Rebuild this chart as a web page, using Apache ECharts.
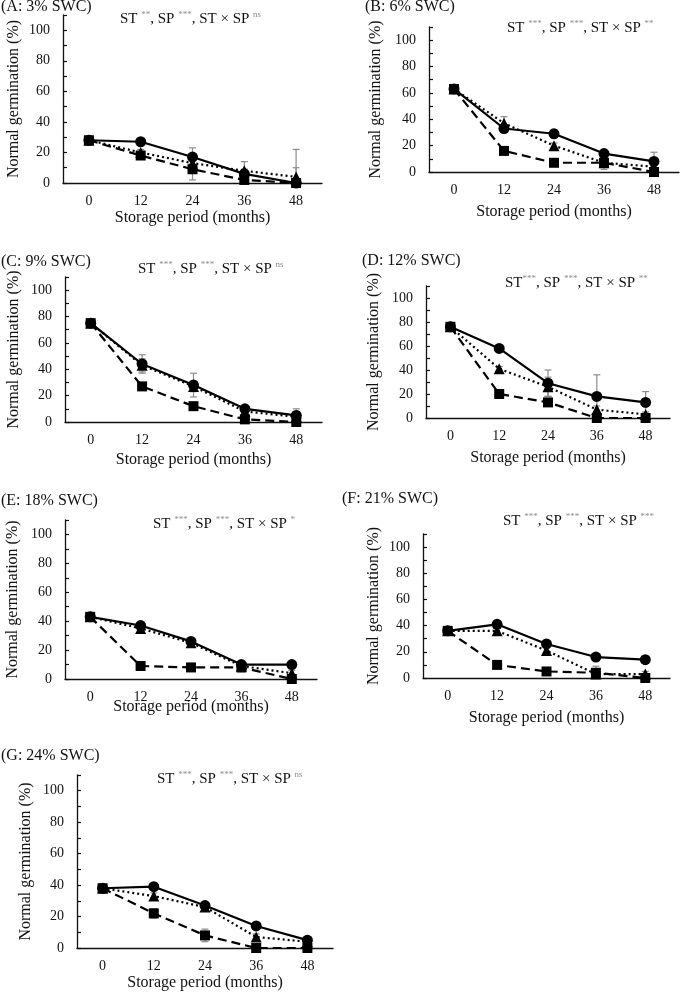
<!DOCTYPE html>
<html>
<head>
<meta charset="utf-8">
<script src="https://cdn.jsdelivr.net/npm/echarts@6/dist/echarts.min.js"></script>
<style>
html,body{margin:0;padding:0;background:#fff;}
#chart{width:681px;height:993px;}
</style>
</head>
<body>
<div id="chart"></div>
<script>
// ---- Data ----
const categories = ['0', '12', '24', '36', '48'];
const panelTitles = ['(A: 3% SWC)', '(B: 6% SWC)', '(C: 9% SWC)', '(D: 12% SWC)', '(E: 18% SWC)', '(F: 21% SWC)', '(G: 24% SWC)'];
// significance: [ST, SP, STxSP]
const sigST   = ['**', '***', '***', '***', '***', '***', '***'];
const sigSP   = ['***', '***', '***', '***', '***', '***', '***'];
const sigInt  = ['ns', '**', 'ns', '**', '*', '***', 'ns'];

// circle (solid line)
const circleA = [28, 27, 17, 6, 0];
const circleB = [63, 33, 29, 14, 8];
const circleC = [75, 44, 28, 10, 5];
const circleD = [76, 58, 29, 18, 13];
const circleE = [43, 37, 26, 10, 10];
const circleF = [36, 41, 26, 16, 14];
const circleG = [38, 39, 27, 14, 5];
// triangle (dotted line)
const triA = [28, 20, 13, 8, 4];
const triB = [63, 37, 20, 7, 4];
const triC = [75, 43, 27, 8, 4];
const triD = [76, 41, 26, 7, 3];
const triE = [43, 35, 25, 9, 4];
const triF = [36, 36, 21, 3, 3];
const triG = [38, 33, 26, 7, 4];
// square (dashed line)
const sqA = [28, 18, 9, 2, 0];
const sqB = [63, 16, 7, 7, 0];
const sqC = [75, 27, 12, 2, 0];
const sqD = [76, 20, 13, 0, 0];
const sqE = [43, 9, 8, 8, 0];
const sqF = [36, 10, 5, 4, 0];
const sqG = [38, 22, 8, 0, 0];
// error bars (±)
const circleErrA = [1, 1, 6, 3, 1];
const circleErrB = [1, 2, 3, 2, 7];
const circleErrC = [3, 7, 9, 2, 3];
const circleErrD = [1, 2, 11, 18, 9];
const circleErrE = [1, 2, 2, 2, 1];
const circleErrF = [1, 2, 2, 1, 1];
const circleErrG = [1, 1, 2, 2, 1];
const triErrA = [1, 2, 3, 6, 18];
const triErrB = [1, 5, 2, 2, 2];
const triErrC = [2, 5, 4, 2, 6];
const triErrD = [1, 2, 8, 3, 2];
const triErrE = [1, 2, 2, 3, 2];
const triErrF = [1, 2, 2, 2, 2];
const triErrG = [1, 2, 2, 2, 1];
const sqErrA = [1, 2, 7, 2, 10];
const sqErrB = [1, 2, 1, 5, 1];
const sqErrC = [2, 2, 2, 2, 1];
const sqErrD = [1, 2, 2, 1, 1];
const sqErrE = [1, 2, 2, 3, 1];
const sqErrF = [1, 2, 2, 5, 1];
const sqErrG = [1, 3, 4, 1, 1];

const yTickValues = [0, 20, 40, 60, 80, 100];

const circles = [circleA, circleB, circleC, circleD, circleE, circleF, circleG];
const tris = [triA, triB, triC, triD, triE, triF, triG];
const squares = [sqA, sqB, sqC, sqD, sqE, sqF, sqG];
const circleErrs = [circleErrA, circleErrB, circleErrC, circleErrD, circleErrE, circleErrF, circleErrG];
const triErrs = [triErrA, triErrB, triErrC, triErrD, triErrE, triErrF, triErrG];
const sqErrs = [sqErrA, sqErrB, sqErrC, sqErrD, sqErrE, sqErrF, sqErrG];

// ---- Layout (pixels) ----
const layout = [
  {left: 63,  right: 322, top: 15,  bottom: 183, yName: 41, xName: 27, title: [1, 8],   ann: [120, 18]},
  {left: 429, right: 679, top: 27,  bottom: 172, yName: 45, xName: 32, title: [365, 8], ann: [507, 27]},
  {left: 65,  right: 322, top: 277, bottom: 422, yName: 43, xName: 30, title: [1, 263], ann: [138, 268]},
  {left: 426, right: 670, top: 286, bottom: 418, yName: 44, xName: 32, title: [362, 262], ann: [505, 282]},
  {left: 65,  right: 317, top: 520, bottom: 679, yName: 44, xName: 20, title: [1, 502], ann: [153, 523]},
  {left: 423, right: 670, top: 534, bottom: 678, yName: 41, xName: 32, title: [342, 500], ann: [503, 520]},
  {left: 77,  right: 333, top: 775, bottom: 948, yName: 43, xName: 27, title: [1, 757], ann: [157, 778]}
];

const FONT = '"Liberation Serif", "Times New Roman", serif';
const W = 681, H = 993;

const grids = [], xAxes = [], yAxes = [], series = [], graphics = [];

function errSeries(idx, vals, errs) {
  return {
    type: 'custom',
    xAxisIndex: idx, yAxisIndex: idx,
    z: 1,
    silent: true,
    data: vals.map((v, i) => [i, v, errs[i]]),
    renderItem: function (params, api) {
      const x = api.value(0), v = api.value(1), e = api.value(2);
      const hi = api.coord([x, v + e]);
      const lo = api.coord([x, Math.max(v - e, 0)]);
      const cw = 3.5;
      const st = {stroke: '#8c8c8c', lineWidth: 1.2};
      return {
        type: 'group',
        children: [
          {type: 'line', shape: {x1: hi[0], y1: hi[1], x2: lo[0], y2: lo[1]}, style: st},
          {type: 'line', shape: {x1: hi[0] - cw, y1: hi[1], x2: hi[0] + cw, y2: hi[1]}, style: st},
          {type: 'line', shape: {x1: lo[0] - cw, y1: lo[1], x2: lo[0] + cw, y2: lo[1]}, style: st}
        ]
      };
    }
  };
}

layout.forEach((L, i) => {
  grids.push({left: L.left, top: L.top, width: L.right - L.left, height: L.bottom - L.top, containLabel: false});
  xAxes.push({
    type: 'category', gridIndex: i, data: categories, boundaryGap: true,
    name: 'Storage period (months)', nameLocation: 'middle', nameGap: L.xName,
    nameMoveOverlap: false,
    nameTextStyle: {fontFamily: FONT, fontSize: 16, color: '#111'},
    axisLine: {lineStyle: {color: '#111', width: 1.3}},
    axisTick: {inside: true, length: 4, lineStyle: {color: '#111', width: 1.2}},
    axisLabel: {fontFamily: FONT, fontSize: 14, color: '#111', margin: 11},
    splitLine: {show: false}
  });
  yAxes.push({
    type: 'value', gridIndex: i, min: 0, max: 110, interval: 10,
    name: 'Normal germination (%)', nameLocation: 'middle', nameGap: L.yName,
    nameMoveOverlap: false,
    nameTextStyle: {fontFamily: FONT, fontSize: 16, color: '#111'},
    axisLine: {show: true, lineStyle: {color: '#111', width: 1.3}},
    axisTick: {show: true, inside: true, length: 4, lineStyle: {color: '#111', width: 1.2}},
    axisLabel: {fontFamily: FONT, fontSize: 14, color: '#111', margin: 13,
      formatter: v => (yTickValues.indexOf(v) >= 0 ? String(v) : '')},
    splitLine: {show: false}
  });
  series.push(errSeries(i, circles[i], circleErrs[i]));
  series.push(errSeries(i, tris[i], triErrs[i]));
  series.push(errSeries(i, squares[i], sqErrs[i]));
  series.push({
    name: 'Circle', type: 'line', xAxisIndex: i, yAxisIndex: i, data: circles[i], z: 3,
    symbol: 'circle', symbolSize: 11, itemStyle: {color: '#000'},
    lineStyle: {color: '#000', width: 2.2, type: 'solid'}, animation: false
  });
  series.push({
    name: 'Triangle', type: 'line', xAxisIndex: i, yAxisIndex: i, data: tris[i], z: 4,
    symbol: 'triangle', symbolSize: 11, itemStyle: {color: '#000'},
    lineStyle: {color: '#000', width: 2.2, type: [2, 3]}, animation: false
  });
  series.push({
    name: 'Square', type: 'line', xAxisIndex: i, yAxisIndex: i, data: squares[i], z: 5,
    symbol: 'rect', symbolSize: 10, itemStyle: {color: '#000'},
    lineStyle: {color: '#000', width: 2.2, type: [9, 5]}, animation: false
  });
  graphics.push({
    type: 'text', left: L.title[0], top: L.title[1] - 9,
    style: {text: panelTitles[i], font: '16px ' + FONT, fill: '#111'}
  });
  graphics.push({
    type: 'text', left: L.ann[0], top: L.ann[1] - 9,
    style: {
      text: (i === 3 ? '{m|ST}' : '{m|ST }') + '{s|' + sigST[i] + '}{m|, SP }{s|' + sigSP[i] + '}{m|, ST × SP }{s|' + sigInt[i] + '}',
      rich: {
        m: {font: '15px ' + FONT, fill: '#111', lineHeight: 18, verticalAlign: 'bottom'},
        s: {font: '9px ' + FONT, fill: '#8c8c8c', lineHeight: 18, verticalAlign: 'top', padding: [1, 0, 0, 0]}
      }
    }
  });
});

const chart = echarts.init(document.getElementById('chart'), null, {renderer: 'canvas', width: W, height: H});
chart.setOption({
  animation: false,
  backgroundColor: '#fff',
  grid: grids, xAxis: xAxes, yAxis: yAxes, series: series,
  graphic: graphics
});
</script>
</body>
</html>
